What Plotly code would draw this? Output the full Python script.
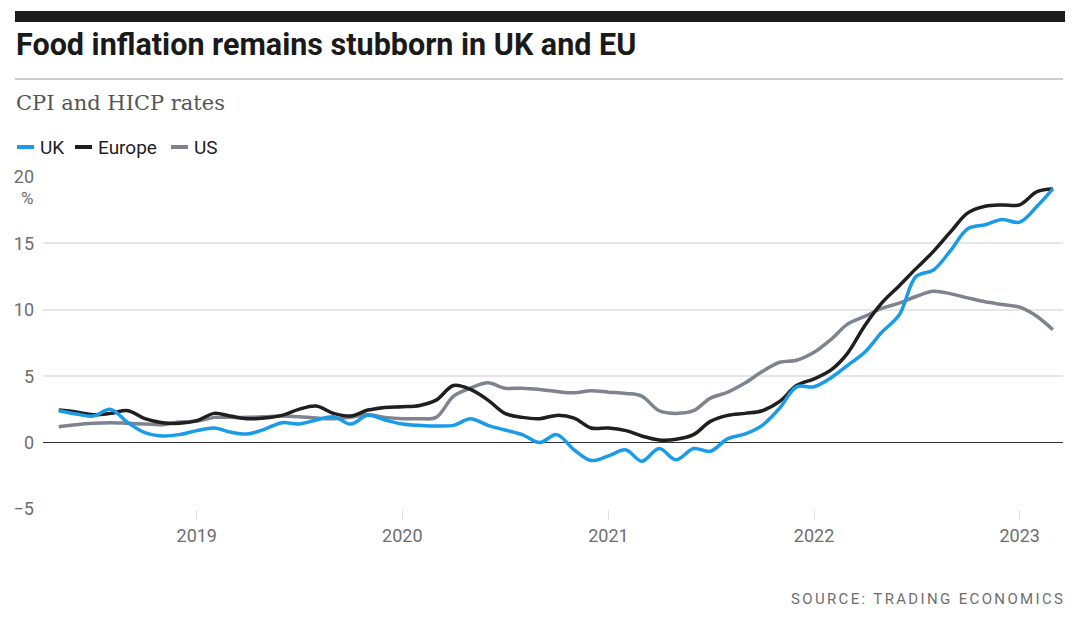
import pandas as pd
import plotly.graph_objects as go

# Monthly dates May 2018 - Mar 2023
dates = pd.date_range("2018-05-01", "2023-03-01", freq="MS")

uk = [2.4, 2.15, 2.0, 2.5, 1.5, 0.75, 0.5, 0.6, 0.9, 1.1, 0.8, 0.65,
      1.0, 1.5, 1.4, 1.7, 1.95, 1.4, 2.05, 1.7, 1.4, 1.3, 1.25, 1.3,
      1.8, 1.3, 0.95, 0.6, 0.0, 0.6, -0.55, -1.35, -1.0, -0.55, -1.4, -0.45,
      -1.3, -0.45, -0.65, 0.3, 0.65, 1.3, 2.6, 4.2, 4.2, 4.9, 5.8, 6.8,
      8.3, 9.6, 12.5, 13.0, 14.5, 16.1, 16.4, 16.8, 16.6, 17.8, 19.1]

europe = [2.45, 2.3, 2.1, 2.2, 2.4, 1.8, 1.5, 1.45, 1.65, 2.2, 2.0, 1.8,
          1.85, 2.05, 2.5, 2.75, 2.2, 2.0, 2.45, 2.65, 2.7, 2.8, 3.2, 4.3,
          4.0, 3.2, 2.2, 1.9, 1.8, 2.05, 1.85, 1.1, 1.1, 0.9, 0.5, 0.2,
          0.25, 0.6, 1.6, 2.05, 2.2, 2.4, 3.1, 4.3, 4.8, 5.5, 6.7, 8.8,
          10.5, 11.8, 13.1, 14.4, 15.9, 17.3, 17.8, 17.9, 17.9, 18.9, 19.1]

us = [1.2, 1.35, 1.45, 1.5, 1.45, 1.4, 1.35, 1.55, 1.6, 1.9, 1.9, 1.9,
      1.95, 2.0, 1.95, 1.85, 1.8, 1.9, 2.1, 1.9, 1.8, 1.8, 1.9, 3.5,
      4.1, 4.5, 4.1, 4.1, 4.0, 3.85, 3.75, 3.9, 3.8, 3.7, 3.5, 2.4,
      2.2, 2.4, 3.35, 3.8, 4.5, 5.35, 6.05, 6.2, 6.8, 7.8, 8.9, 9.5,
      10.1, 10.5, 11.0, 11.4, 11.2, 10.9, 10.6, 10.4, 10.2, 9.5, 8.5]

series_names = ["UK", "Europe", "US"]
series_colors = ["#1a9be8", "#1f1f1f", "#7d838f"]
series_values = [uk, europe, us]

y_ticks = [-5, 0, 5, 10, 15, 20]
x_ticks = ["2019-01-01", "2020-01-01", "2021-01-01", "2022-01-01", "2023-01-01"]
x_labels = ["2019", "2020", "2021", "2022", "2023"]

title = "Food inflation remains stubborn in UK and EU"
subtitle = "CPI and HICP rates"
source = "SOURCE: TRADING ECONOMICS"

# The page body has an 8px margin; work in screen pixels and shift.
OFF = 8
W, H = 1080 - 2 * OFF, 619 - 2 * OFF
L, R, T, B = 43 - OFF, 1063 - OFF, 177 - OFF, 509 - OFF  # plot area in figure pixels


def px(x):
    """screen x pixel -> paper coordinate"""
    return (x - OFF - L) / (R - L)


def py(y):
    """screen y pixel -> paper coordinate"""
    return (B - (y - OFF)) / (B - T)


cond = "Roboto, Arial, sans-serif"

fig = go.Figure()
# draw US first so UK/Europe sit on top
for name, color, vals in list(zip(series_names, series_colors, series_values))[::-1]:
    fig.add_trace(go.Scatter(
        x=dates, y=vals, name=name, mode="lines",
        line=dict(color=color, width=3.5, shape="spline", smoothing=1.0),
        showlegend=False,
    ))

fig.update_layout(
    width=W, height=H,
    margin=dict(l=L, r=W - R, t=T, b=H - B, autoexpand=False),
    paper_bgcolor="white", plot_bgcolor="white",
    xaxis=dict(
        range=["2018-04-03", "2023-03-19"],
        tickvals=x_ticks, ticktext=x_labels,
        showgrid=False, zeroline=False, showline=False,
        ticks="outside", ticklen=10, tickcolor="#e2e2e2", tickwidth=1,
        tickfont=dict(family=cond, size=18, color="#6e6e6e"),
    ),
    yaxis=dict(
        range=[-5, 20], tickvals=y_ticks,
        showgrid=True, gridcolor="#e6e6e6", gridwidth=1.5,
        zeroline=True, zerolinecolor="#333333", zerolinewidth=1.2,
        showline=False, ticks="",
        ticklabelstandoff=8,
        tickfont=dict(family=cond, size=18, color="#6e6e6e"),
    ),
)

shapes = [
    # top black bar
    dict(type="rect", xref="paper", yref="paper",
         x0=px(15), x1=px(1065), y0=py(22), y1=py(11),
         fillcolor="#1c1c1c", line=dict(width=0), layer="above"),
    # rule under title
    dict(type="line", xref="paper", yref="paper",
         x0=px(15), x1=px(1063), y0=py(79), y1=py(79),
         line=dict(color="#9a9a9a", width=1)),
]

legend_pos = [(17, 34, 38), (75, 92, 96), (171, 188, 192)]
annotations = [
    dict(text=f"<b>{title}</b>", x=px(14), y=py(45), xref="paper", yref="paper",
         xanchor="left", yanchor="middle", showarrow=False,
         font=dict(family="Roboto, Arial, sans-serif", size=30.5, color="#1a1a1a")),
    dict(text=subtitle, x=px(14), y=py(103), xref="paper", yref="paper",
         xanchor="left", yanchor="middle", showarrow=False,
         font=dict(family="DejaVu Serif, Liberation Serif, serif", size=21, color="#555555")),
    dict(text="%", x=px(35), y=py(198), xref="paper", yref="paper",
         xanchor="right", yanchor="middle", showarrow=False,
         font=dict(family=cond, size=17, color="#6e6e6e")),
    dict(text=f'<span style="letter-spacing:2.35px">{source}</span>', x=px(1067), y=py(599),
         xref="paper", yref="paper", xanchor="right", yanchor="middle", showarrow=False,
         font=dict(family=cond, size=15, color="#6e6e6e")),
]

for (x0, x1, xt), name, color in zip(legend_pos, series_names, series_colors):
    shapes.append(dict(type="line", xref="paper", yref="paper",
                       x0=px(x0), x1=px(x1), y0=py(147), y1=py(147),
                       line=dict(color=color, width=4)))
    annotations.append(dict(text=name, x=px(xt), y=py(147), xref="paper", yref="paper",
                            xanchor="left", yanchor="middle", showarrow=False,
                            font=dict(family=cond, size=19, color="#1f1f1f")))

fig.update_layout(shapes=shapes, annotations=annotations)

fig.write_html("out.html")
